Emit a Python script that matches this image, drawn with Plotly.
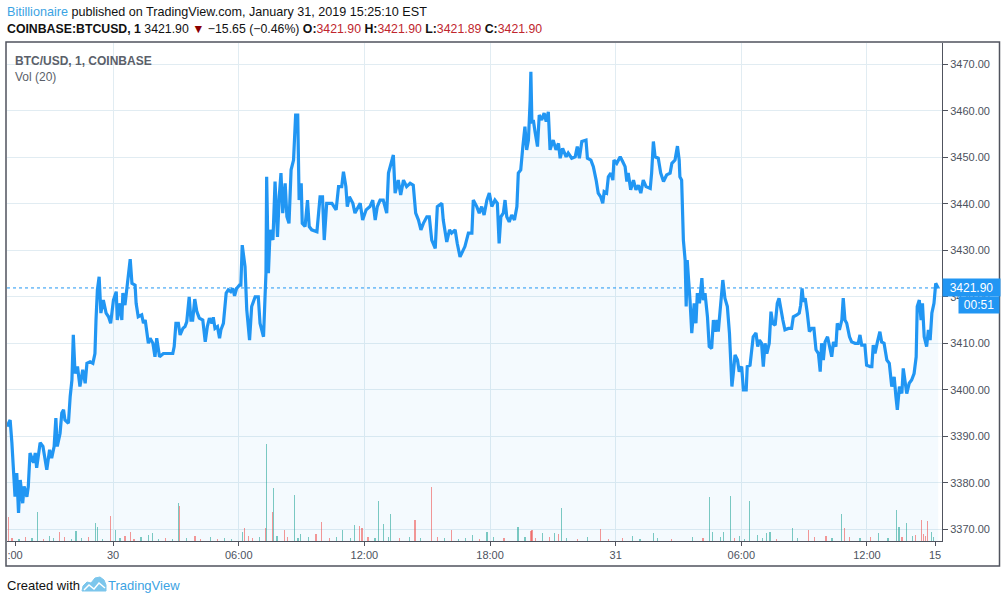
import pandas as pd
import plotly.graph_objects as go

# price line, minutes after 2019-01-30 00:00 (1-minute BTC/USD on Coinbase)
minutes_a = [-304, -295, -290, -284, -281, -276, -271, -266, -259, -255, -247, -243, -238, -228, -223, -219,
             -209, -201, -195, -190, -182, -176, -169, -164, -160, -152, -147, -142, -138, -128, -123, -118,
             -114, -109, -102, -95, -87, -80, -75, -66, -58, -52, -49, -45, -40, -35, -28, -20, -13, -7]
prices_a = [3392.1, 3393.5, 3388.6, 3382.1, 3377.0, 3382.1, 3373.5, 3380.6, 3375.6, 3379.2, 3377.0, 3379.2,
            3386.4, 3384.3, 3386.4, 3383.2, 3388.6, 3387.8, 3384.9, 3382.8, 3387.1, 3385.3, 3387.8, 3393.9,
            3387.8, 3390.6, 3395.0, 3395.7, 3393.5, 3392.8, 3398.5, 3402.1, 3411.8, 3403.5, 3405.0, 3400.7,
            3404.3, 3401.4, 3405.7, 3406.0, 3405.7, 3407.8, 3415.0, 3421.5, 3424.3, 3416.5, 3419.3, 3416.5,
            3415.7, 3414.3]

minutes_b = [1, 9, 12, 20, 25, 28, 34, 42, 49, 54, 63, 66, 72, 82, 87, 92, 97, 101, 106, 114, 120, 125, 133,
             144, 171, 175, 180, 187, 192, 200, 206, 211, 218, 223, 228, 234, 240, 247, 257, 264, 270, 276,
             283, 287, 292, 299, 305, 309, 316, 324, 330, 337, 343, 348, 354, 362, 366]
prices_b = [3419.3, 3421.1, 3415.0, 3418.6, 3415.0, 3420.8, 3418.2, 3422.9, 3428.1, 3422.9, 3422.5, 3418.6,
            3415.7, 3416.1, 3414.3, 3415.0, 3412.2, 3410.0, 3411.1, 3410.0, 3407.1, 3411.1, 3407.1, 3407.8,
            3407.8, 3409.3, 3414.3, 3414.3, 3411.8, 3413.2, 3413.6, 3414.6, 3420.0, 3415.0, 3415.0, 3419.5,
            3416.8, 3415.4, 3415.0, 3410.3, 3413.6, 3415.4, 3414.3, 3415.6, 3413.2, 3413.6, 3411.1, 3412.9,
            3414.3, 3420.8, 3421.5, 3421.1, 3421.8, 3420.2, 3421.8, 3422.5, 3422.5]

minutes_c = [370, 378, 383, 391, 397, 407, 416, 421, 431, 435, 438, 440, 445, 450, 458, 464, 471, 476, 481,
             486, 493, 498, 504, 510, 517, 523, 529, 533, 539, 542, 550, 557, 562, 569, 584, 593, 600, 605,
             612, 627, 639, 646, 655, 660, 667, 671, 677, 687, 693, 708, 715, 725, 736, 744, 751, 757, 765,
             774, 784, 789, 796, 803, 808, 817, 824, 832, 841, 851, 860, 867, 875, 882, 889, 899, 906, 913,
             923, 929, 942, 946, 956, 964, 970, 980, 986]
prices_c = [3431.1, 3426.5, 3417.2, 3410.7, 3417.9, 3420.0, 3420.0, 3414.3, 3411.4, 3419.3, 3425.1, 3445.8,
            3425.1, 3434.4, 3432.2, 3444.8, 3432.9, 3441.5, 3446.6, 3438.0, 3444.4, 3437.2, 3435.8, 3447.3,
            3449.4, 3459.1, 3459.1, 3440.8, 3444.4, 3435.8, 3435.1, 3440.8, 3435.1, 3434.4, 3434.0, 3441.5,
            3441.5, 3432.2, 3440.1, 3440.1, 3438.7, 3443.7, 3443.7, 3446.9, 3443.7, 3439.4, 3441.5, 3440.1,
            3438.0, 3440.1, 3436.5, 3438.7, 3439.4, 3440.8, 3436.5, 3439.4, 3440.8, 3440.8, 3438.0, 3446.6,
            3448.7, 3450.5, 3442.3, 3445.1, 3441.9, 3445.1, 3443.7, 3444.4, 3444.0, 3438.0, 3436.5, 3434.4,
            3435.8, 3437.2, 3437.2, 3432.2, 3430.4, 3439.4, 3440.1, 3436.5, 3431.8, 3434.4, 3433.7, 3434.4,
            3431.5]

minutes_d = [994, 1008, 1018, 1028, 1032, 1042, 1049, 1056, 1063, 1071, 1078, 1085, 1094, 1101, 1106, 1111,
             1118, 1123, 1128, 1135, 1142, 1150, 1157, 1161, 1168, 1174, 1180, 1185, 1190, 1195, 1197, 1200,
             1204, 1209, 1216, 1221, 1228, 1235, 1241, 1247, 1252, 1261, 1269, 1276, 1281, 1288, 1298, 1304,
             1314, 1324, 1330, 1336, 1343, 1355, 1359, 1369, 1376, 1384, 1390, 1397, 1403, 1407, 1414, 1419,
             1426, 1432, 1435, 1443, 1453, 1460, 1467, 1472, 1476, 1483, 1491, 1498, 1505, 1512, 1519, 1527,
             1539, 1543, 1548, 1553, 1562, 1569, 1577, 1586, 1596, 1601, 1610, 1617, 1622, 1624, 1629, 1634,
             1639, 1642, 1645]
prices_d = [3428.6, 3430.8, 3433.7, 3433.7, 3440.8, 3439.4, 3438.0, 3439.4, 3437.6, 3440.8, 3442.3, 3439.4,
            3440.8, 3440.1, 3431.5, 3437.2, 3438.0, 3440.8, 3437.2, 3436.1, 3437.6, 3436.5, 3439.4, 3446.6,
            3447.3, 3452.3, 3456.6, 3451.6, 3453.7, 3462.3, 3468.4, 3457.3, 3458.0, 3455.5, 3452.3, 3459.1,
            3458.0, 3459.5, 3457.7, 3459.8, 3451.6, 3453.7, 3451.6, 3453.0, 3449.8, 3451.9, 3450.1, 3450.9,
            3449.8, 3450.1, 3452.3, 3449.8, 3453.4, 3453.7, 3449.8, 3449.4, 3448.0, 3445.1, 3442.3, 3441.5,
            3440.1, 3442.6, 3442.3, 3445.8, 3446.6, 3445.1, 3449.4, 3448.7, 3450.1, 3449.1, 3448.0, 3444.8,
            3446.6, 3443.0, 3445.1, 3443.0, 3444.0, 3442.3, 3445.1, 3443.7, 3443.3, 3446.6, 3453.4, 3450.1,
            3449.8, 3446.6, 3444.8, 3446.2, 3446.6, 3448.7, 3449.4, 3452.4, 3449.4, 3445.8, 3445.1, 3432.2,
            3427.9, 3417.9, 3427.9]

minutes_e = [1653, 1658, 1665, 1670, 1674, 1680, 1687, 1691, 1696, 1703, 1708, 1715, 1720, 1725, 1730, 1734,
             1739, 1747, 1753, 1760, 1766, 1770, 1773, 1777, 1782, 1789, 1794, 1801, 1806, 1814, 1817, 1825,
             1830, 1834, 1842, 1847, 1852, 1858, 1863, 1868, 1873, 1880, 1885, 1890, 1897, 1903, 1908, 1913,
             1919, 1925, 1935, 1944, 1949, 1959, 1966, 1970, 1974, 1978, 1983, 1989, 1995, 2002, 2008, 2014,
             2021, 2026, 2030, 2035, 2040, 2047, 2052, 2059, 2064, 2071, 2075, 2081, 2088, 2092, 2097, 2102,
             2110, 2116, 2126, 2135, 2140, 2145, 2154, 2159, 2169, 2174, 2178, 2183, 2190, 2197, 2202, 2209,
             2217, 2224, 2231, 2238, 2243, 2247, 2253, 2260, 2264, 2269, 2274, 2281, 2288, 2295, 2301, 2304,
             2310, 2315, 2319, 2324, 2331, 2336, 2341, 2346, 2352, 2357, 2364]
prices_e = [3419.3, 3412.2, 3418.6, 3414.3, 3420.8, 3418.6, 3424.0, 3419.3, 3420.8, 3415.7, 3409.3, 3408.9,
            3415.0, 3412.5, 3415.0, 3412.5, 3416.8, 3423.6, 3419.7, 3417.9, 3412.2, 3406.4, 3400.7, 3403.5,
            3407.5, 3406.4, 3403.9, 3405.0, 3400.0, 3400.0, 3405.0, 3405.3, 3408.6, 3411.4, 3412.2, 3409.3,
            3410.7, 3410.0, 3405.0, 3410.0, 3407.8, 3410.0, 3416.8, 3414.3, 3413.9, 3418.6, 3419.7, 3417.2,
            3415.0, 3412.9, 3413.2, 3413.2, 3415.7, 3416.1, 3416.5, 3418.2, 3421.8, 3418.9, 3419.7, 3416.5,
            3412.5, 3413.2, 3413.2, 3408.6, 3407.8, 3403.9, 3410.0, 3406.4, 3410.3, 3411.4, 3409.3, 3407.1,
            3410.3, 3409.3, 3414.3, 3412.9, 3415.0, 3419.7, 3415.0, 3414.3, 3411.4, 3410.3, 3410.0, 3410.0,
            3411.8, 3409.6, 3409.6, 3405.3, 3405.0, 3405.0, 3409.6, 3407.8, 3410.3, 3412.5, 3410.3, 3410.0,
            3406.4, 3405.7, 3400.7, 3402.8, 3398.5, 3395.7, 3400.7, 3399.2, 3404.6, 3401.4, 3399.2, 3401.4,
            3402.1, 3403.5, 3407.1, 3417.9, 3419.3, 3415.0, 3418.6, 3411.4, 3409.3, 3412.9, 3410.7, 3416.5,
            3418.6, 3422.9, 3421.9]

# volume bars (BTC), "u" = up minute, "d" = down minute
vol_minutes = [-300, -217, -183, -154, -106, -50, -45, -7, 7, 34, 49, 101, 113, 187, 190, 235, 370, 376, 387,
               437, 439, 456, 459, 491, 519, 536, 581, 597, 658, 691, 706, 713, 760, 774, 794, 865, 912, 970,
               1029, 1071, 1160, 1197, 1200, 1230, 1264, 1276, 1284, 1396, 1489, 1548, 1708, 1718, 1749,
               1769, 1794, 1823, 1846, 1872, 1882, 1946, 1992, 2043, 2087, 2095, 2193, 2244, 2252, 2273,
               2316, 2322, 2333, 2344,
               -290, -270, -250, -232, -200, -170, -140, -120, -90, -70, -30, 20, 60, 80, 130, 150, 170,
               210, 250, 280, 300, 320, 340, 400, 420, 470, 500, 530, 560, 620, 640, 680, 730, 750, 790,
               820, 850, 880, 930, 950, 990, 1010, 1050, 1090, 1120, 1180, 1210, 1250, 1300, 1330, 1360,
               1420, 1460, 1510, 1560, 1600, 1660, 1690, 1740, 1780, 1810, 1860, 1900, 1960, 2010, 2060,
               2110, 2140, 2170, 2220, 2260, 2290, 2300, 2328, 2350]
volumes = [12, 14.5, 2.5, 4.5, 5, 9, 7, 12.5, 5.5, 2.5, 4.5, 3, 4, 19, 17.5, 2.5, 4.5, 6.5, 2.5,
           6.5, 48.5, 14.5, 26.5, 5.5, 23, 3.5, 3.5, 9.5, 5.5, 8, 7.5, 6.5, 20, 8.5, 13.5, 10.5, 27, 5.5,
           3, 4.5, 7, 5, 5.5, 4, 4, 3.5, 16.5, 6, 2.5, 4, 22, 4.5, 4.5,
           22.5, 2.5, 20, 3, 4, 4.5, 6.5, 5.5, 2.5, 13.5, 6.5, 4, 15.5, 7, 9,
           10.5, 3.5, 10, 4.5,
           1.5, 1, 2, 1.5, 1, 1.5, 2, 1, 1.5, 2, 1, 1.5, 1, 2, 1, 1.5, 1,
           1.5, 1, 2, 1, 1.5, 1, 1.5, 2, 2.5, 2, 1.5, 2, 1.5, 2, 1.5, 2, 1.5, 2,
           1.5, 2, 1.5, 2, 1.5, 1, 1.5, 1, 2, 1.5, 2, 1.5, 2, 1.5, 1, 2,
           1, 1.5, 1, 1.5, 1, 2, 1.5, 2, 1.5, 1, 1.5, 1, 1.5, 2, 1.5,
           2, 1.5, 2, 1.5, 2, 2.5, 3, 2.5, 2]
vol_side = ["d", "u", "u", "d", "u", "u", "u", "d", "u", "d", "d", "u", "u", "u", "d", "d", "u", "d", "d",
            "d", "u", "d", "u", "d", "u", "u", "d", "d", "u", "u", "d", "d", "u", "u", "u", "d", "d", "d",
            "u", "u", "u", "d", "d", "u", "u", "d", "u", "d", "u", "u", "u", "u", "u",
            "u", "u", "u", "u", "u", "u", "u", "d", "d", "u", "d", "u", "u", "u", "u",
            "d", "d", "d", "u",
            "d", "u", "d", "u", "d", "u", "d", "u", "u", "d", "u", "u", "d", "u", "u", "d", "u",
            "u", "d", "u", "d", "u", "u", "d", "u", "u", "d", "u", "u", "d", "u", "u", "d", "u", "u",
            "d", "u", "u", "d", "u", "u", "u", "d", "u", "d", "u", "d", "d", "u", "d", "u",
            "d", "d", "u", "u", "d", "u", "d", "u", "d", "u", "u", "d", "u", "d", "u",
            "d", "u", "d", "u", "d", "u", "d", "d", "u"]

tick_minutes = [0, 360, 720, 1080, 1440, 1800, 2160]
tick_labels = ["30", "06:00", "12:00", "18:00", "31", "06:00", "12:00"]
edge_tick_minutes = [-281, 2355]
edge_tick_labels = [":00", "15"]
price_ticks = [3370, 3380, 3390, 3400, 3410, 3420, 3430, 3440, 3450, 3460, 3470]

last_price = 3421.90
countdown = "00:51"

base = pd.Timestamp("2019-01-30 00:00")


def to_time(mins):
    return list(base + pd.to_timedelta(mins, unit="min"))


minutes = minutes_a + minutes_b + minutes_c + minutes_d + minutes_e
prices = prices_a + prices_b + prices_c + prices_d + prices_e

LINE = "#2196f3"
AXIS = "#50535e"
GRID = "#e1ecf2"
TXT = "#4c525e"
FONT = "Liberation Sans, Arial, sans-serif"


# pixel -> paper helpers (plot area is x 7..942, y 43..541)
def px(x):
    return (x - 7) / 935


def py(y):
    return (541 - y) / 498


fig = go.Figure()

fig.add_trace(go.Bar(
    x=to_time(vol_minutes),
    y=volumes,
    width=220000,
    marker={"color": ["rgba(38,166,154,0.6)" if s == "u" else "rgba(239,83,80,0.6)" for s in vol_side],
            "line": {"width": 0}},
    xaxis="x2",
    yaxis="y2",
    showlegend=False,
    hoverinfo="skip",
))

fig.add_trace(go.Scatter(
    x=to_time(minutes),
    y=prices,
    mode="lines",
    line={"color": LINE, "width": 3.2},
    fill="tozeroy",
    fillcolor="rgba(33,150,243,0.05)",
    showlegend=False,
))

x_range = to_time([-304, 2375])

fig.update_layout(
    width=1001,
    height=600,
    margin={"l": 7, "r": 59, "t": 43, "b": 59},
    paper_bgcolor="white",
    plot_bgcolor="white",
    font={"family": FONT, "color": TXT, "size": 11},
    bargap=0,
    xaxis={
        "range": x_range,
        "tickvals": to_time(tick_minutes),
        "ticktext": tick_labels,
        "showgrid": True,
        "gridcolor": GRID,
        "showline": True,
        "linecolor": AXIS,
        "linewidth": 1,
        "ticks": "outside",
        "ticklen": 4,
        "tickcolor": AXIS,
        "tickfont": {"size": 11, "color": TXT},
        "zeroline": False,
    },
    xaxis2={
        "matches": "x",
        "overlaying": "x",
        "anchor": "y",
        "tickvals": to_time(edge_tick_minutes),
        "ticktext": edge_tick_labels,
        "showgrid": False,
        "showline": False,
        "ticks": "outside",
        "ticklen": 4,
        "tickcolor": AXIS,
        "tickfont": {"size": 11, "color": TXT},
        "zeroline": False,
    },
    yaxis={
        "side": "right",
        "range": [3367.48, 3474.58],
        "tickvals": price_ticks,
        "tickformat": ".2f",
        "showgrid": True,
        "gridcolor": GRID,
        "showline": True,
        "linecolor": AXIS,
        "linewidth": 1,
        "ticks": "outside",
        "ticklen": 5,
        "tickcolor": AXIS,
        "tickfont": {"size": 11, "color": TXT},
        "zeroline": False,
    },
    yaxis2={
        "overlaying": "y",
        "range": [0, 249],
        "visible": False,
    },
)

# last price dotted line
fig.add_shape(type="line", xref="paper", yref="y", x0=0, x1=1, y0=last_price, y1=last_price,
              line={"color": LINE, "width": 1, "dash": "dot"})

# outer frame
fig.add_shape(type="rect", xref="paper", yref="paper", x0=px(6), x1=px(999.5), y0=py(566), y1=py(42),
              line={"color": AXIS, "width": 1.5}, fillcolor="rgba(0,0,0,0)", layer="above")

# price label boxes on the right scale
fig.add_annotation(xref="paper", yref="y", x=1, y=last_price, xanchor="left", yanchor="middle",
                   text=f"{last_price:.2f}", showarrow=False, bgcolor=LINE, width=55, height=15,
                   borderpad=1, font={"color": "white", "size": 12, "family": FONT})
fig.add_annotation(xref="paper", yref="paper", x=px(958), y=py(305), xanchor="left", yanchor="middle",
                   text=countdown, showarrow=False, bgcolor=LINE, width=38, height=14, borderpad=1,
                   font={"color": "white", "size": 12, "family": FONT})

RED = "#c0262d"
header1 = ("<span style='color:#3ba3e3'>Bitillionaire</span> published on TradingView.com, "
           "January 31, 2019 15:25:10 EST")
header2 = (f"<b>COINBASE:BTCUSD, 1</b> {last_price:.2f} <span style='color:#8b0000'>▼</span> "
           f"−15.65 (−0.46%) <b>O:</b><span style='color:{RED}'>3421.90</span> "
           f"<b>H:</b><span style='color:{RED}'>3421.90</span> "
           f"<b>L:</b><span style='color:{RED}'>3421.89</span> "
           f"<b>C:</b><span style='color:{RED}'>3421.90</span>")

texts = [
    (header1, 5, 12, 12.6, "#111111"),
    (header2, 5, 29, 12.3, "#111111"),
    ("<b>BTC/USD, 1, COINBASE</b>", 13, 61, 12, "#5b5f6a"),
    ("Vol (20)", 13, 77, 12, "#5b5f6a"),
    ("Created with", 5, 585, 13, "#111111"),
    ("TradingView", 106, 585, 13, "#3ba3e3"),
]
for text, x, y, size, color in texts:
    fig.add_annotation(xref="paper", yref="paper", x=px(x), y=py(y), xanchor="left", yanchor="middle",
                       text=text, showarrow=False, font={"size": size, "color": color, "family": FONT})

# TradingView logo (small cloud)
logo = [(82, 591), (83, 586), (87, 582), (91, 583), (95, 578), (100, 577), (104, 580), (106, 585), (106, 591)]
path = "M " + " L ".join(f"{px(a)},{py(b)}" for a, b in logo) + " Z"
fig.add_shape(type="path", xref="paper", yref="paper", path=path, fillcolor="#7cc6ec",
              line={"color": "#7cc6ec", "width": 1})
zig = [(84, 590), (89, 585), (94, 589), (99, 583), (105, 588)]
zpath = "M " + " L ".join(f"{px(a)},{py(b)}" for a, b in zig)
fig.add_shape(type="path", xref="paper", yref="paper", path=zpath, line={"color": "white", "width": 1.5})

# the page body has a default 8px margin; drop it so the figure sits at the window corner
fig.write_html("out.html", config={"displayModeBar": False},
               post_script="document.body.style.margin='0';")
